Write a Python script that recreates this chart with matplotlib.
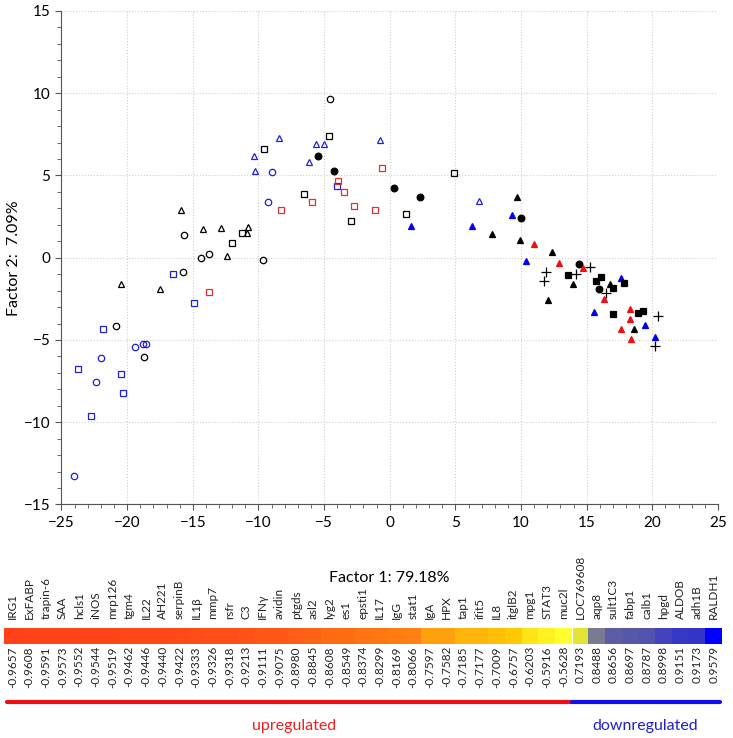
import matplotlib.pyplot as plt
from matplotlib.ticker import MultipleLocator
from matplotlib.colors import LinearSegmentedColormap, Normalize

plt.rcParams['font.family'] = ['Lato', 'DejaVu Sans']

# ---- factor scores (Factor 1, Factor 2) per sample group ----
blk_open_circ_x = [-4.53, -15.65, -14.38, -13.74, -15.72, -9.63, -20.87, -18.74]
blk_open_circ_y = [9.63, 1.36, 0.00, 0.24, -0.87, -0.14, -4.13, -6.02]

blk_open_tri_x = [-15.9, -14.2, -12.85, -10.77, -10.9, -12.37, -20.47, -17.48]
blk_open_tri_y = [2.9, 1.73, 1.79, 1.88, 1.48, 0.1, -1.58, -1.92]

blk_open_sq_x = [-11.28, -12.01, -9.58, -6.56, -4.6, 4.92, 1.26, -2.93]
blk_open_sq_y = [1.48, 0.87, 6.59, 3.85, 7.42, 5.15, 2.64, 2.23]

blue_open_tri_x = [-10.34, -10.3, -8.46, -6.15, -5.62, -5.01, -0.77, 6.77]
blue_open_tri_y = [6.2, 5.3, 7.29, 5.84, 6.89, 6.89, 7.14, 3.47]

blue_open_circ_x = [-8.97, -9.25, -19.38, -18.82, -18.56, -21.97, -22.35, -24.02]
blue_open_circ_y = [5.19, 3.37, -5.41, -5.25, -5.27, -6.08, -7.58, -13.25]

blue_open_sq_x = [-16.48, -14.91, -21.82, -23.77, -20.45, -20.29, -22.75, -4.02]
blue_open_sq_y = [-1.01, -2.77, -4.35, -6.79, -7.09, -8.22, -9.6, 4.34]

red_open_sq_x = [-8.28, -13.77, -0.61, -3.94, -3.48, -5.9, -2.72, -1.1]
red_open_sq_y = [2.88, -2.07, 5.45, 4.64, 3.97, 3.37, 3.14, 2.9]

blk_circ_x = [-5.46, -4.27, 0.3, 2.33, 10.0, 14.44, 15.96]
blk_circ_y = [6.18, 5.25, 4.26, 3.67, 2.43, -0.4, -1.92]

blk_tri_x = [9.67, 7.81, 9.92, 12.36, 13.93, 12.03, 16.75, 18.6]
blk_tri_y = [3.71, 1.44, 1.08, 0.33, -1.62, -2.59, -1.62, -4.31]

blue_tri_x = [1.62, 6.24, 9.29, 10.35, 15.56, 17.61, 19.44, 20.18]
blue_tri_y = [1.93, 1.93, 2.61, -0.22, -3.3, -1.25, -4.09, -4.8]

red_tri_x = [10.96, 12.92, 14.69, 16.29, 18.32, 18.32, 17.61, 18.37]
red_tri_y = [0.81, -0.3, -0.64, -2.53, -3.14, -3.75, -4.31, -4.94]

blk_sq_x = [13.55, 15.73, 16.09, 17.0, 17.86, 17.03, 18.91, 19.29]
blk_sq_y = [-1.05, -1.42, -1.17, -1.82, -1.56, -3.44, -3.36, -3.24]

plus_x = [11.9, 11.77, 15.25, 14.16, 16.47, 20.43, 20.23]
plus_y = [-0.89, -1.43, -0.55, -1.01, -2.17, -3.52, -5.37]

# ---- gene loadings strip ----
genes = ["IRG1", "ExFABP", "trapin-6", "SAA", "hcls1", "iNOS", "mrp126", "tgm4",
         "IL22", "AH221", "serpinB", "IL1β", "mmp7", "rsfr", "C3", "IFNγ",
         "avidin", "ptgds", "asl2", "lyg2", "es1", "epsti1", "IL17", "IgG",
         "stat1", "IgA", "HPX", "tap1", "ifit5", "IL8", "itglB2", "mpg1",
         "STAT3", "muc2l", "LOC769608", "aqp8", "sult1C3", "fabp1", "calb1",
         "hpgd", "ALDOB", "adh1B", "RALDH1"]
loadings = [-0.9657, -0.9608, -0.9591, -0.9573, -0.9552, -0.9544, -0.9519, -0.9462,
            -0.9446, -0.9440, -0.9422, -0.9333, -0.9326, -0.9318, -0.9213, -0.9111,
            -0.9075, -0.8980, -0.8845, -0.8608, -0.8549, -0.8374, -0.8299, -0.8169,
            -0.8066, -0.7597, -0.7582, -0.7185, -0.7177, -0.7009, -0.6757, -0.6203,
            -0.5916, -0.5628, 0.7193, 0.8488, 0.8656, 0.8697, 0.8787,
            0.8998, 0.9151, 0.9173, 0.9579]
n_up = 34

fig = plt.figure(figsize=(7.33, 7.38), dpi=100)
ax = fig.add_axes([0.0839, 0.3164, 0.8956, 0.6688])

BLUE = "#2020d8"
RED = "#e03030"
groups = [
    (blk_open_circ_x, blk_open_circ_y, "o", "black", False, 4.6),
    (blk_open_tri_x, blk_open_tri_y, "^", "black", False, 4.8),
    (blk_open_sq_x, blk_open_sq_y, "s", "black", False, 4.2),
    (blue_open_tri_x, blue_open_tri_y, "^", BLUE, False, 4.8),
    (blue_open_circ_x, blue_open_circ_y, "o", BLUE, False, 4.6),
    (blue_open_sq_x, blue_open_sq_y, "s", BLUE, False, 4.2),
    (red_open_sq_x, red_open_sq_y, "s", RED, False, 4.2),
    (blk_circ_x, blk_circ_y, "o", "black", True, 4.8),
    (blk_tri_x, blk_tri_y, "^", "black", True, 5.0),
    (blue_tri_x, blue_tri_y, "^", "#0000ee", True, 5.0),
    (red_tri_x, red_tri_y, "^", "#ee1010", True, 5.0),
    (blk_sq_x, blk_sq_y, "s", "black", True, 4.6),
]
for gx, gy, m, c, filled, ms in groups:
    ax.plot(gx, gy, linestyle="none", marker=m, markersize=ms,
            markerfacecolor=c if filled else "none", markeredgecolor=c,
            markeredgewidth=0.9, zorder=3)
ax.plot(plus_x, plus_y, linestyle="none", marker="+", markersize=6.5,
        color="black", markeredgewidth=0.9, zorder=3)

ax.set_xlim(-25, 25)
ax.set_ylim(-15, 15)
ax.set_xticks(range(-25, 26, 5))
ax.set_yticks(range(-15, 16, 5))
ax.xaxis.set_minor_locator(MultipleLocator(1))
ax.yaxis.set_minor_locator(MultipleLocator(1))
ax.grid(True, which="major", linestyle=":", color="#d0d0d0", linewidth=0.8)
ax.set_axisbelow(True)
for s in ["top", "right"]:
    ax.spines[s].set_visible(False)
for s in ["left", "bottom"]:
    ax.spines[s].set_color("#555555")
ax.tick_params(which="major", length=4, color="#555555", labelsize=11, pad=4)
ax.tick_params(which="minor", length=3, color="#555555")

ax.set_xlabel("Factor 1: 79.18%", fontsize=11.5)
ax.xaxis.set_label_coords(0.5, -0.149)
ax.xaxis.label.set_va("center")
ax.set_ylabel("Factor 2:  7.09%", fontsize=11.5)
ax.yaxis.set_label_coords(-0.072, 0.5)
ax.yaxis.label.set_va("center")

# ---- strip of gene loadings ----
sx = fig.add_axes([4 / 733, 0, 718 / 733, 180 / 738])
sx.set_xlim(0, len(genes))
sx.set_ylim(0, 180)
sx.axis("off")

up_cmap = LinearSegmentedColormap.from_list(
    "up", [(0.0, "#ff4018"), (0.45, "#ff8a10"), (0.5, "#ff9e10"),
           (0.75, "#ffd000"), (1.0, "#ffff30")])
down_cmap = LinearSegmentedColormap.from_list(
    "down", [(0.0, "#e4e436"), (0.54, "#7a7a92"), (0.62, "#5a5aa8"),
             (0.8, "#3c3cc2"), (0.83, "#3434c8"), (1.0, "#0000ff")])
up_norm = Normalize(min(loadings[:n_up]), max(loadings[:n_up]))
down_norm = Normalize(min(loadings[n_up:]), max(loadings[n_up:]))
colors = [up_cmap(up_norm(v)) if v < 0 else down_cmap(down_norm(v)) for v in loadings]

xs = [i + 0.5 for i in range(len(genes))]
sx.bar(xs, 16.5, bottom=94, width=1.0, color=colors, linewidth=0)
sx.axvline(n_up, ymin=94 / 180, ymax=110.5 / 180, color="white", linewidth=0.8)

for x, g, v in zip(xs, genes, loadings):
    sx.text(x, 119, g, rotation=90, ha="center", va="bottom", fontsize=8.5,
            color="#222222")
    sx.text(x, 92, f"{v:.4f}", rotation=90, ha="center", va="top", fontsize=8.5,
            color="#222222")

sx.plot([0.15, n_up], [36, 36], color="#ee1010", linewidth=3, solid_capstyle="round")
sx.plot([n_up, len(genes) - 0.1], [36, 36], color="#1010ee", linewidth=3,
        solid_capstyle="round")
sx.text(17.4, 12, "upregulated", color="#ee2020", fontsize=11.5, ha="center", va="center")
sx.text(38.4, 12, "downregulated", color="#2020cc", fontsize=11.5, ha="center", va="center")

fig.savefig("out.png", dpi=100)
